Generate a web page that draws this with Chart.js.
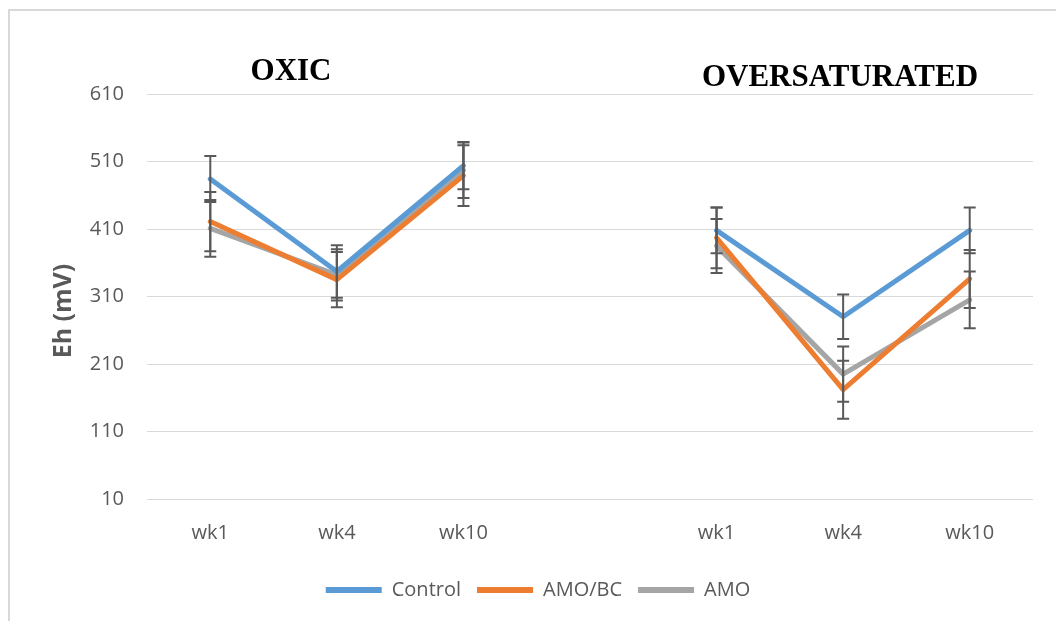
<!DOCTYPE html>
<html>
<head>
<meta charset="utf-8">
<script src="https://cdn.jsdelivr.net/npm/chart.js@4/dist/chart.umd.min.js"></script>
<style>
  html, body { margin: 0; padding: 0; background: #fff; overflow: hidden; }
  #frame { position: absolute; left: 8px; top: 9px; width: 1100px; height: 700px;
           border-left: 2px solid #d9d9d9; border-top: 2px solid #d9d9d9; }
  #wrap { position: absolute; left: 0; top: 0; width: 1056px; height: 621px; }
</style>
</head>
<body>
<div id="frame"></div>
<div id="wrap"><canvas id="chart" width="1056" height="621"></canvas></div>
<script>
// categories (blank slot separates the two treatments)
const weeks = ['wk1', 'wk4', 'wk10', '', 'wk1', 'wk4', 'wk10'];
const groupTitles = ['OXIC', 'OVERSATURATED'];
const yTicks = { min: 10, max: 610, step: 100 };

// Eh (mV) means
const control = [484, 347, 504, null, 408, 280, 408];
const amoBc   = [421, 335, 489, null, 397, 172, 336];
const amo     = [411, 342, 497, null, 385, 195, 305];

// +/- error
const controlErr = [34, 39, 35, null, 34, 33, 34];
const amoBcErr   = [44, 41, 45, null, 45, 43, 43];
const amoErr     = [42, 38, 41, null, 40, 41, 42];

const GREY_TEXT = '#595959';

const series = [
    { label: 'Control', data: control, err: controlErr, color: '#5B9BD5' },
    { label: 'AMO/BC', data: amoBc, err: amoBcErr, color: '#ED7D31' },
    { label: 'AMO', data: amo, err: amoErr, color: '#A5A5A5' }
];

const datasets = series.map(s => ({
    label: s.label,
    data: s.data,
    errors: s.err,
    borderColor: s.color,
    backgroundColor: s.color,
    borderWidth: 5,
    borderCapStyle: 'round',
    borderJoinStyle: 'round',
    pointRadius: 0,
    pointHoverRadius: 0,
    tension: 0,
    spanGaps: false
}));

// error bars drawn on top of the lines, using the chart's scales
const errorBars = {
    id: 'errorBars',
    afterDatasetsDraw(chart) {
        const ctx = chart.ctx;
        const x = chart.scales.x, y = chart.scales.y;
        ctx.save();
        ctx.strokeStyle = GREY_TEXT;
        ctx.lineWidth = 2;
        chart.data.datasets.forEach(ds => {
            ds.data.forEach((v, i) => {
                if (v == null) return;
                const e = ds.errors[i];
                const px = x.getPixelForValue(i);
                const top = y.getPixelForValue(v + e);
                const bot = y.getPixelForValue(v - e);
                ctx.beginPath();
                ctx.moveTo(px, top); ctx.lineTo(px, bot);
                ctx.moveTo(px - 6, top); ctx.lineTo(px + 6, top);
                ctx.moveTo(px - 6, bot); ctx.lineTo(px + 6, bot);
                ctx.stroke();
            });
        });
        ctx.restore();
    }
};

// group headings and the y axis title
const labelsPlugin = {
    id: 'textLabels',
    afterDraw(chart) {
        const ctx = chart.ctx;
        ctx.save();
        ctx.fillStyle = '#000';
        ctx.font = 'bold 31px "Liberation Serif", "Times New Roman", serif';
        ctx.textAlign = 'center';
        ctx.textBaseline = 'alphabetic';
        ctx.fillText(groupTitles[0], 291, 80);
        ctx.fillText(groupTitles[1], 840, 86);

        ctx.fillStyle = GREY_TEXT;
        ctx.font = 'bold 25px "Open Sans", sans-serif';
        ctx.textBaseline = 'middle';
        ctx.translate(64, 311);
        ctx.rotate(-Math.PI / 2);
        ctx.fillText('Eh (mV)', 0, 0);
        ctx.restore();
    }
};

Chart.defaults.font.family = '"Open Sans", sans-serif';
Chart.defaults.color = GREY_TEXT;

const ctx = document.getElementById('chart').getContext('2d');
const chart = new Chart(ctx, {
    type: 'line',
    data: { labels: weeks, datasets: datasets },
    options: {
        responsive: false,
        animation: false,
        layout: { padding: { left: 43, right: 23, top: 94, bottom: 11 } },
        plugins: {
            title: { display: false },
            tooltip: { enabled: false },
            legend: {
                position: 'bottom',
                labels: {
                    font: { size: 20 },
                    color: GREY_TEXT,
                    boxWidth: 56,
                    boxHeight: 6,
                    useBorderRadius: true,
                    borderRadius: 3,
                    padding: 16,
                    generateLabels(c) {
                        return c.data.datasets.map((ds, i) => ({
                            text: ds.label,
                            fillStyle: ds.borderColor,
                            strokeStyle: ds.borderColor,
                            lineWidth: 0,
                            fontColor: GREY_TEXT,
                            datasetIndex: i,
                            hidden: false
                        }));
                    }
                }
            }
        },
        scales: {
            x: {
                offset: true,
                grid: { display: false },
                border: { display: false },
                ticks: { font: { size: 20 }, color: GREY_TEXT, padding: 14, maxRotation: 0, autoSkip: false },
                afterFit(scale) { scale.height = 65; }
            },
            y: {
                min: yTicks.min,
                max: yTicks.max,
                grid: { color: '#d9d9d9', lineWidth: 1, drawTicks: false },
                border: { display: false },
                ticks: { stepSize: yTicks.step, font: { size: 20 }, color: GREY_TEXT, padding: 23 },
                afterFit(scale) { scale.width = 104; }
            }
        }
    },
    plugins: [errorBars, labelsPlugin]
});
</script>
</body>
</html>
